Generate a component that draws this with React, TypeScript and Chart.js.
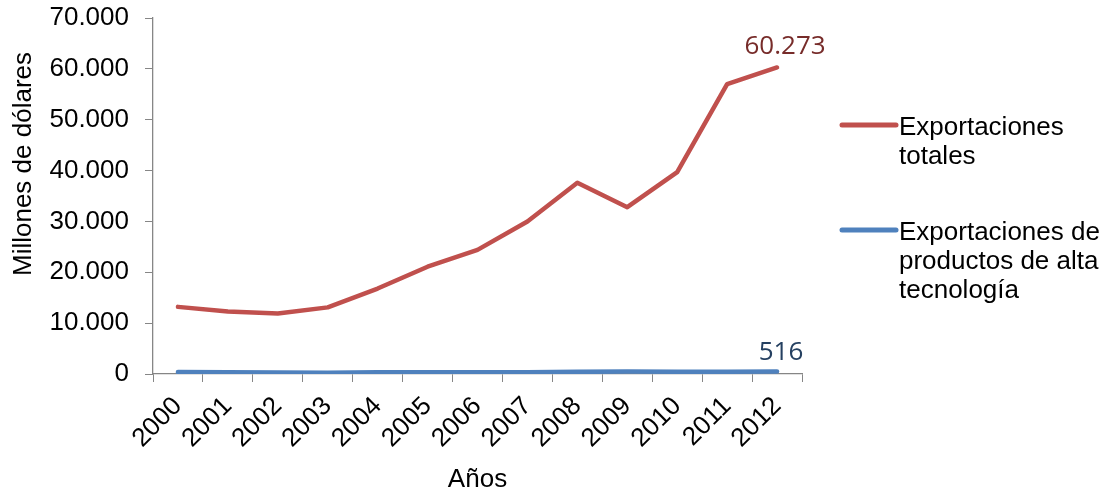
import React, { useEffect, useRef } from "react";
import { Chart, registerables } from "chart.js";

Chart.register(...registerables);

const years = ["2000", "2001", "2002", "2003", "2004", "2005", "2006", "2007", "2008", "2009", "2010", "2011", "2012"];
const totalExports = [13200, 12300, 11900, 13100, 16800, 21100, 24400, 30000, 37600, 32800, 39700, 57000, 60273];
const highTechExports = [380, 340, 290, 270, 320, 350, 350, 340, 420, 500, 440, 450, 516];
const seriesNames = ["Exportaciones totales", "Exportaciones de productos de alta tecnología"];
const legendLines = [["Exportaciones", "totales"], ["Exportaciones de", "productos de alta", "tecnología"]];
const seriesColors = ["#C0504D", "#4F81BD"];
const labelColors = ["#772C2A", "#254061"];
const yTitle = "Millones de dólares";
const xTitle = "Años";

const SANS = "'Liberation Sans', Arial, sans-serif";

function fmt(v: number): string {
  return String(Math.round(v)).replace(/\B(?=(\d{3})+(?!\d))/g, ".");
}

const customDraw = {
  id: "customDraw",
  afterDatasetsDraw(chart: any) {
    const ctx = chart.ctx;
    const area = chart.chartArea;
    ctx.save();
    // end-point data labels
    ctx.font = "26px 'Open Sans', sans-serif";
    ctx.textAlign = "center";
    ctx.textBaseline = "alphabetic";
    const offsets = [
      { dx: 8, dy: -13 },
      { dx: 4, dy: -11 },
    ];
    chart.data.datasets.forEach((ds: any, i: number) => {
      const meta = chart.getDatasetMeta(i);
      const last = meta.data[meta.data.length - 1];
      ctx.fillStyle = labelColors[i];
      ctx.fillText(fmt(ds.data[ds.data.length - 1]), last.x + offsets[i].dx, last.y + offsets[i].dy);
    });

    // axis titles
    ctx.fillStyle = "#000";
    ctx.font = "26px " + SANS;
    ctx.textAlign = "center";
    ctx.fillText(xTitle, (area.left + area.right) / 2, 487);
    ctx.save();
    ctx.translate(31, 164);
    ctx.rotate(-Math.PI / 2);
    ctx.fillText(yTitle, 0, 0);
    ctx.restore();

    // legend
    const legendTop = [125, 230];
    ctx.textAlign = "left";
    legendLines.forEach((lines, i) => {
      const y = legendTop[i];
      ctx.strokeStyle = seriesColors[i];
      ctx.lineWidth = 5;
      ctx.lineCap = "round";
      ctx.beginPath();
      ctx.moveTo(842, y);
      ctx.lineTo(896, y);
      ctx.stroke();
      ctx.fillStyle = "#000";
      lines.forEach((t, j) => {
        ctx.fillText(t, 899, y + 9.5 + j * 29);
      });
    });
    ctx.restore();
  },
};

export default function App() {
  const ref = useRef<HTMLCanvasElement | null>(null);
  useEffect(() => {
    document.body.style.margin = "0";
    const canvas = ref.current;
    if (!canvas) return;
    const chart = new Chart(canvas, {
      type: "line",
      data: {
        labels: years,
        datasets: [
          {
            label: seriesNames[0],
            data: totalExports,
            borderColor: seriesColors[0],
            backgroundColor: seriesColors[0],
            borderWidth: 4.5,
            pointRadius: 0,
            tension: 0,
            borderCapStyle: "round",
            borderJoinStyle: "round",
          },
          {
            label: seriesNames[1],
            data: highTechExports,
            borderColor: seriesColors[1],
            backgroundColor: seriesColors[1],
            borderWidth: 4.5,
            pointRadius: 0,
            tension: 0,
            borderCapStyle: "round",
            borderJoinStyle: "round",
          },
        ],
      },
      options: {
        animation: false,
        responsive: false,
        maintainAspectRatio: false,
        layout: { padding: { top: 18, right: 308, left: 0, bottom: 0 } },
        plugins: {
          legend: { display: false },
          tooltip: { enabled: false },
        },
        scales: {
          x: {
            type: "category",
            offset: true,
            grid: {
              display: true,
              offset: true,
              drawOnChartArea: false,
              drawTicks: true,
              tickLength: 8,
              color: "#868686",
            },
            border: { display: true, color: "#868686", width: 1.3 },
            ticks: {
              autoSkip: false,
              minRotation: 45,
              maxRotation: 45,
              padding: 9,
              color: "#000",
              font: { family: SANS, size: 26 },
            },
            afterFit(scale: any) {
              scale.height = 118;
              scale.paddingLeft = 0;
              scale.paddingRight = 0;
            },
          },
          y: {
            min: 0,
            max: 70000,
            grid: {
              display: true,
              drawOnChartArea: false,
              drawTicks: true,
              tickLength: 8,
              color: "#868686",
            },
            border: { display: true, color: "#868686", width: 1.3 },
            ticks: {
              stepSize: 10000,
              padding: 16,
              color: "#000",
              font: { family: SANS, size: 26 },
              callback: (v: any) => fmt(Number(v)),
            },
            afterFit(scale: any) {
              scale.width = 153;
              scale.paddingTop = 0;
              scale.paddingBottom = 0;
            },
          },
        },
      },
      plugins: [customDraw],
    });
    return () => chart.destroy();
  }, []);
  return (
    <div style={{ width: 1110, height: 492, background: "#fff" }}>
      <canvas ref={ref} width={1110} height={492} style={{ display: "block", width: 1110, height: 492 }} />
    </div>
  );
}
